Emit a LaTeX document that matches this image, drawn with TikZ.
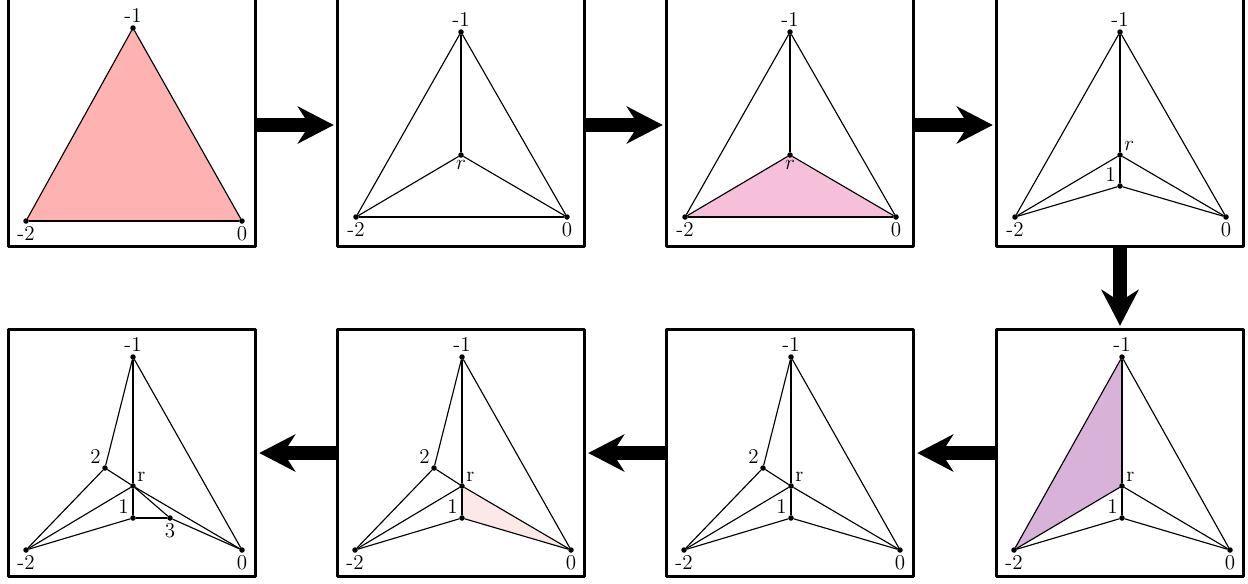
\documentclass[tikz,border=0pt]{standalone}
\usetikzlibrary{arrows.meta,backgrounds}
\definecolor{firstred}{RGB}{255,178,178}
\definecolor{midpink}{RGB}{246,192,218}
\definecolor{lilac}{RGB}{216,178,216}
\definecolor{palepink}{RGB}{253,232,232}

\begin{document}
\begin{tikzpicture}[x=0.02cm,y=-0.02cm,line cap=round,line join=round,
  font=\fontsize{12}{14}\selectfont,
  panel/.style={draw,line width=1.7pt,minimum size=4.95cm,inner sep=0pt},
  tallpanel/.style={panel,minimum height=5.04cm},
  vtx/.style={circle,fill,inner sep=0pt,minimum size=0.11cm},
  link/.style={line width=0.65pt},
  bigarrow/.style={line width=0.28cm,line cap=butt,
    -{Stealth[length=0.72cm,width=0.74cm]},shorten >=0.04cm},
  every label/.style={inner sep=1pt}]
  \useasboundingbox (0,0) rectangle (1248,583);
  % the eight frames, top row left to right, bottom row right to left
  \node[tallpanel] (P1) at (132,121) {};
  \node[tallpanel] (P2) at (461,121) {};
  \node[tallpanel] (P3) at (790,121) {};
  \node[tallpanel] (P4) at (1120,121) {};
  \node[panel] (P5) at (1120,453) {};
  \node[panel] (P6) at (790,453) {};
  \node[panel] (P7) at (461,453) {};
  \node[panel] (P8) at (132,453) {};
  \foreach \s/\t in {P1/P2,P2/P3,P3/P4}
    \draw[bigarrow] ([yshift=-0.08cm]\s.east) -- ([yshift=-0.08cm]\t.west);
  \foreach \s/\t in {P4/P5,P5/P6,P6/P7,P7/P8}
    \draw[bigarrow] (\s) -- (\t);

  % step 1
  \begin{scope}[shift={(P1.center)}]
    \node[vtx,label=above:-1] (vm1) at (1,-93) {};
    \node[vtx,label=below:-2] (vm2) at (-106,100) {};
    \node[vtx,label=below:0] (v0) at (110,100) {};
    \begin{scope}[on background layer]
      \fill[firstred] (vm1.center) -- (vm2.center) -- (v0.center) -- cycle;
    \end{scope}
    \foreach \a/\b in {vm1/vm2,vm2/v0,v0/vm1}
      \draw[link] (\a) -- (\b);
  \end{scope}

  % steps 2 and 3
  \foreach \p in {P2,P3}{
    \begin{scope}[shift={(\p.center)}]
      \node[vtx,label=above:-1] (vm1) at (0,-89) {};
      \node[vtx,label=below:$r$] (vr) at (0,34) {};
      \node[vtx,label=below:-2] (vm2) at (-105,96) {};
      \node[vtx,label=below:0] (v0) at (106,96) {};
      \foreach \a/\b in {vm1/vm2,vm2/v0,v0/vm1,vm1/vr,vr/vm2,vr/v0}
        \draw[link] (\a) -- (\b);
    \end{scope}
  }
  \begin{scope}[shift={(P3.center)},on background layer]
    \fill[midpink] (vm2.center) -- (vr.center) -- (v0.center) -- cycle;
  \end{scope}

  % step 4
  \begin{scope}[shift={(P4.center)}]
    \node[vtx,label=above:-1] (vm1) at (0,-89) {};
    \node[vtx,label=above right:$r$] (vr) at (0,34) {};
    \node[vtx,label=above left:1] (v1) at (0,65) {};
    \node[vtx,label=below:-2] (vm2) at (-105,96) {};
    \node[vtx,label=below:0] (v0) at (106,96) {};
    \foreach \a/\b in {vm1/vm2,v0/vm1,vm1/vr,vr/v1,vr/vm2,vr/v0,v1/vm2,v1/v0}
      \draw[link] (\a) -- (\b);
  \end{scope}

  % step 5
  \begin{scope}[shift={(P5.center)}]
    \node[vtx,label=above:-1] (vm1) at (2,-96) {};
    \node[vtx,label=above right:r] (vr) at (2,33) {};
    \node[vtx,label=above left:1] (v1) at (2,65) {};
    \node[vtx,label=below:-2] (vm2) at (-106,97) {};
    \node[vtx,label=below:0] (v0) at (110,97) {};
    \begin{scope}[on background layer]
      \fill[lilac] (vm1.center) -- (vm2.center) -- (vr.center) -- cycle;
    \end{scope}
    \foreach \a/\b in {vm1/vm2,v0/vm1,vm1/vr,vr/v1,vr/vm2,vr/v0,v1/vm2,v1/v0}
      \draw[link] (\a) -- (\b);
  \end{scope}

  % steps 6 and 7
  \foreach \p in {P6,P7}{
    \begin{scope}[shift={(\p.center)}]
      \node[vtx,label=above:-1] (vm1) at (1,-96) {};
      \node[vtx,label=above left:2] (v2) at (-27,15) {};
      \node[vtx,label=above right:r] (vr) at (1,33) {};
      \node[vtx,label=above left:1] (v1) at (1,65) {};
      \node[vtx,label=below:-2] (vm2) at (-106,97) {};
      \node[vtx,label=below:0] (v0) at (110,97) {};
      \foreach \a/\b in {vm1/v2,v2/vm2,v2/vr,v0/vm1,vm1/vr,vr/v1,vr/vm2,vr/v0,v1/vm2,v1/v0}
        \draw[link] (\a) -- (\b);
    \end{scope}
  }
  \begin{scope}[shift={(P7.center)},on background layer]
    \fill[palepink] (vr.center) -- (v1.center) -- (v0.center) -- cycle;
  \end{scope}

  % step 8
  \begin{scope}[shift={(P8.center)}]
    \node[vtx,label=above:-1] (vm1) at (1,-96) {};
    \node[vtx,label=above left:2] (v2) at (-27,15) {};
    \node[vtx,label=above right:r] (vr) at (1,33) {};
    \node[vtx,label=above left:1] (v1) at (1,65) {};
    \node[vtx,label=below:3] (v3) at (38,65) {};
    \node[vtx,label=below:-2] (vm2) at (-106,97) {};
    \node[vtx,label=below:0] (v0) at (110,97) {};
    \foreach \a/\b in {vm1/v2,v2/vm2,v2/vr,v0/vm1,vm1/vr,vr/v1,vr/vm2,vr/v0,
                       v1/vm2,v1/v3,v3/v0,vr/v3}
      \draw[link] (\a) -- (\b);
  \end{scope}
\end{tikzpicture}
\end{document}
